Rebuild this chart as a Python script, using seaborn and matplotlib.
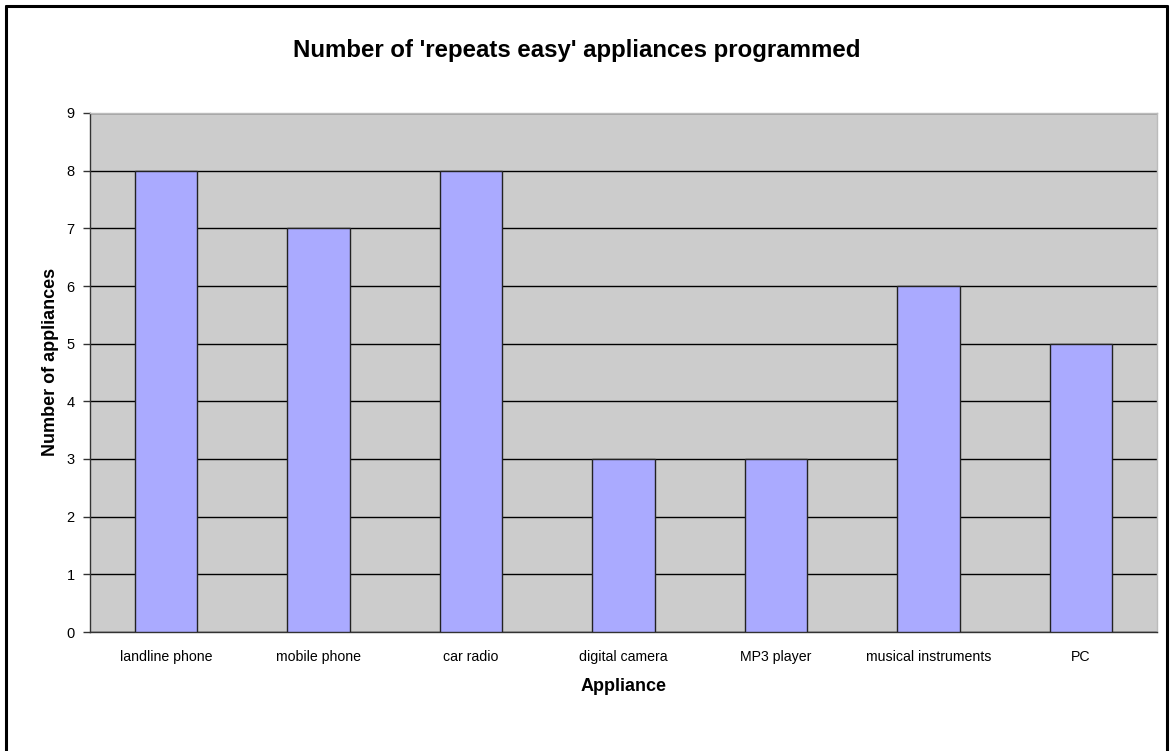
import matplotlib
matplotlib.use("Agg")
import matplotlib.pyplot as plt
import seaborn as sns
import pandas as pd
import numpy as np
from matplotlib.lines import Line2D

appliances = ["landline phone", "mobile phone", "car radio", "digital camera",
              "MP3 player", "musical instruments", "PC"]
counts = [8, 7, 8, 3, 3, 6, 5]
y_ticks = list(range(0, 10))

sns.set_theme(style="white")
plt.rcParams["font.family"] = ["Liberation Sans", "DejaVu Sans"]
plt.rcParams["text.color"] = "black"
plt.rcParams["axes.labelcolor"] = "black"
plt.rcParams["xtick.color"] = "black"
plt.rcParams["ytick.color"] = "black"

df = pd.DataFrame({"Appliance": appliances, "Count": counts})

fig = plt.figure(figsize=(11.7, 7.51), dpi=100)
ax = fig.add_axes([90 / 1170, 1 - 632 / 751, (1157 - 90) / 1170, (632 - 113) / 751])
ax.set_facecolor("#CCCCCC")

sns.barplot(data=df, x="Appliance", y="Count", ax=ax, color="#AAAAFF",
            saturation=1, width=0.41, edgecolor="#222222", linewidth=1.0, zorder=3)

ax.set_ylim(0, 9)
ax.set_xlim(-0.5, len(appliances) - 0.5)
ax.set_yticks(y_ticks)
ax.yaxis.grid(True, color="black", linewidth=1.0, zorder=1)
ax.set_axisbelow(True)

# category labels centred, tick marks at category boundaries
ax.set_xticks(range(len(appliances)))
ax.set_xticklabels(appliances, fontsize=10.2)
ax.set_xticks(np.arange(-0.5, len(appliances)), minor=True)
ax.tick_params(axis="x", which="major", length=0, pad=13)
ax.tick_params(axis="x", which="minor", length=5, width=1, color="#333333", direction="out")
ax.tick_params(axis="y", which="major", length=5, width=1, color="#333333",
               direction="out", labelsize=10.5, pad=6, left=True)

for side in ["left", "bottom"]:
    ax.spines[side].set_color("#333333")
    ax.spines[side].set_linewidth(1.0)
for side in ["top", "right"]:
    ax.spines[side].set_color("#BBBBBB")
    ax.spines[side].set_linewidth(1.0)

ax.set_xlabel("Appliance", fontsize=13, fontweight="bold", labelpad=10)
ax.set_ylabel("Number of appliances", fontsize=13, fontweight="bold")
ax.yaxis.set_label_coords(-0.029, 0.52)

fig.text(577 / 1170, 1 - 51 / 751, "Number of 'repeats easy' appliances programmed",
         ha="center", va="center", fontsize=17.3, fontweight="bold")

# chart frame (left, top, right edges)
for xs, ys in [([6, 6], [0, 745]), ([6, 1167], [745, 745]), ([1167, 1167], [0, 745])]:
    fig.add_artist(Line2D([x / 1170 for x in xs], [y / 751 for y in ys],
                          transform=fig.transFigure, color="black", linewidth=2.2))

fig.savefig("out.png", dpi=100)
